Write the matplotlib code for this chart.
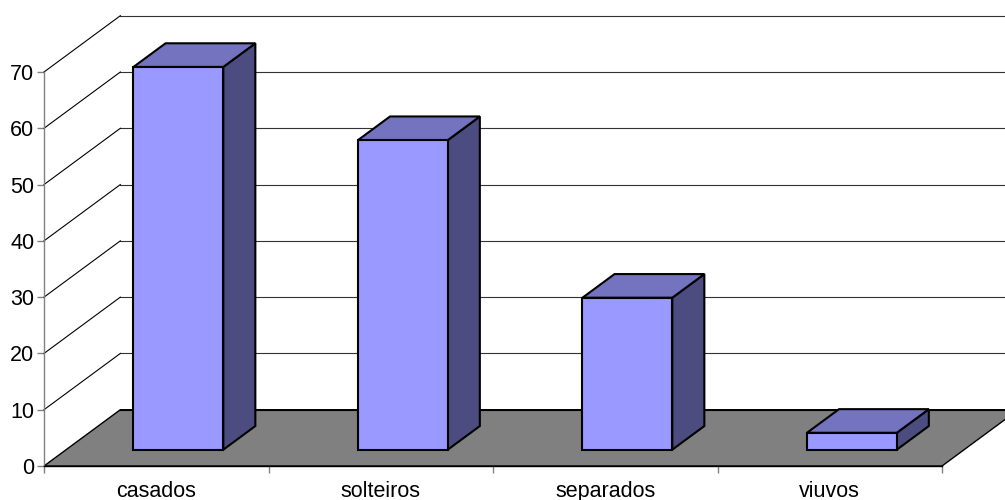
import matplotlib
matplotlib.use("Agg")
import matplotlib.pyplot as plt
from matplotlib.patches import Polygon

categories = ["casados", "solteiros", "separados", "viuvos"]
values = [68, 55, 27, 3]
yticks = [0, 10, 20, 30, 40, 50, 60, 70]

plt.rcParams['font.family'] = ['Liberation Sans', 'DejaVu Sans']

# oblique projection: depth 1 shifts by DX category units and DY value units
DX, DY = 0.34, 10.0
D_FRONT, D_BACK = 0.29, 0.71
BAR_L, BAR_R = 0.30, 0.70

FRONT = '#9999FF'
TOP = '#7373BF'
SIDE = '#4C4C80'


def P(x, v, d):
    return (x + DX * d, v + DY * d)


fig = plt.figure(figsize=(10.05, 5.0), dpi=100)
ax = fig.add_axes([44 / 1005, 34 / 500, 898 / 1005, 394 / 500])
ncat = len(categories)
ymax = yticks[-1]
ax.set_xlim(0, ncat)
ax.set_ylim(0, ymax)
ax.patch.set_visible(False)

# floor
floor = Polygon([P(0, 0, 0), P(ncat, 0, 0), P(ncat, 0, 1), P(0, 0, 1)],
                closed=True, facecolor='#808080', edgecolor='black', lw=1.0,
                clip_on=False, zorder=1)
ax.add_patch(floor)

# back wall gridlines and left wall diagonals
for t in yticks:
    x0, y0 = P(0, t, 1)
    x1, y1 = P(ncat, t, 1)
    ax.plot([x0, x1], [y0, y1], color='black' if t == 0 else '#333333',
            lw=0.8, clip_on=False, zorder=2)
    if t > 0:
        a = P(0, t, 0)
        b = P(0, t, 1)
        ax.plot([a[0], b[0]], [a[1], b[1]], color='black', lw=0.8,
                clip_on=False, zorder=2)

# bars
for i, v in enumerate(values):
    xl, xr = i + BAR_L, i + BAR_R
    side = [P(xr, 0, D_FRONT), P(xr, 0, D_BACK), P(xr, v, D_BACK), P(xr, v, D_FRONT)]
    top = [P(xl, v, D_FRONT), P(xr, v, D_FRONT), P(xr, v, D_BACK), P(xl, v, D_BACK)]
    front = [P(xl, 0, D_FRONT), P(xr, 0, D_FRONT), P(xr, v, D_FRONT), P(xl, v, D_FRONT)]
    for pts, col in ((side, SIDE), (top, TOP), (front, FRONT)):
        ax.add_patch(Polygon(pts, closed=True, facecolor=col, edgecolor='black',
                             lw=1.5, joinstyle='miter', clip_on=False, zorder=5 + i))

# axes
for s in ('top', 'right'):
    ax.spines[s].set_visible(False)
ax.spines['left'].set_color('#808080')
ax.spines['left'].set_linewidth(1.0)
ax.spines['bottom'].set_color('black')
ax.spines['bottom'].set_linewidth(1.0)
ax.spines['bottom'].set_zorder(3)

ax.set_yticks(yticks)
ax.set_yticklabels([str(t) for t in yticks])
ax.tick_params(axis='y', direction='out', length=5, width=1, color='#808080',
               labelsize=15.5, pad=2, labelcolor='black')

ax.set_xticks(range(ncat + 1))
ax.set_xticklabels([''] * (ncat + 1))
ax.set_xticks([i + 0.5 for i in range(ncat)], minor=True)
ax.set_xticklabels(categories, minor=True)
ax.tick_params(axis='x', which='major', direction='out', length=5, width=1,
               color='#808080')
ax.tick_params(axis='x', which='minor', length=0, labelsize=15.5, pad=11)

fig.savefig('out.png', dpi=100)
